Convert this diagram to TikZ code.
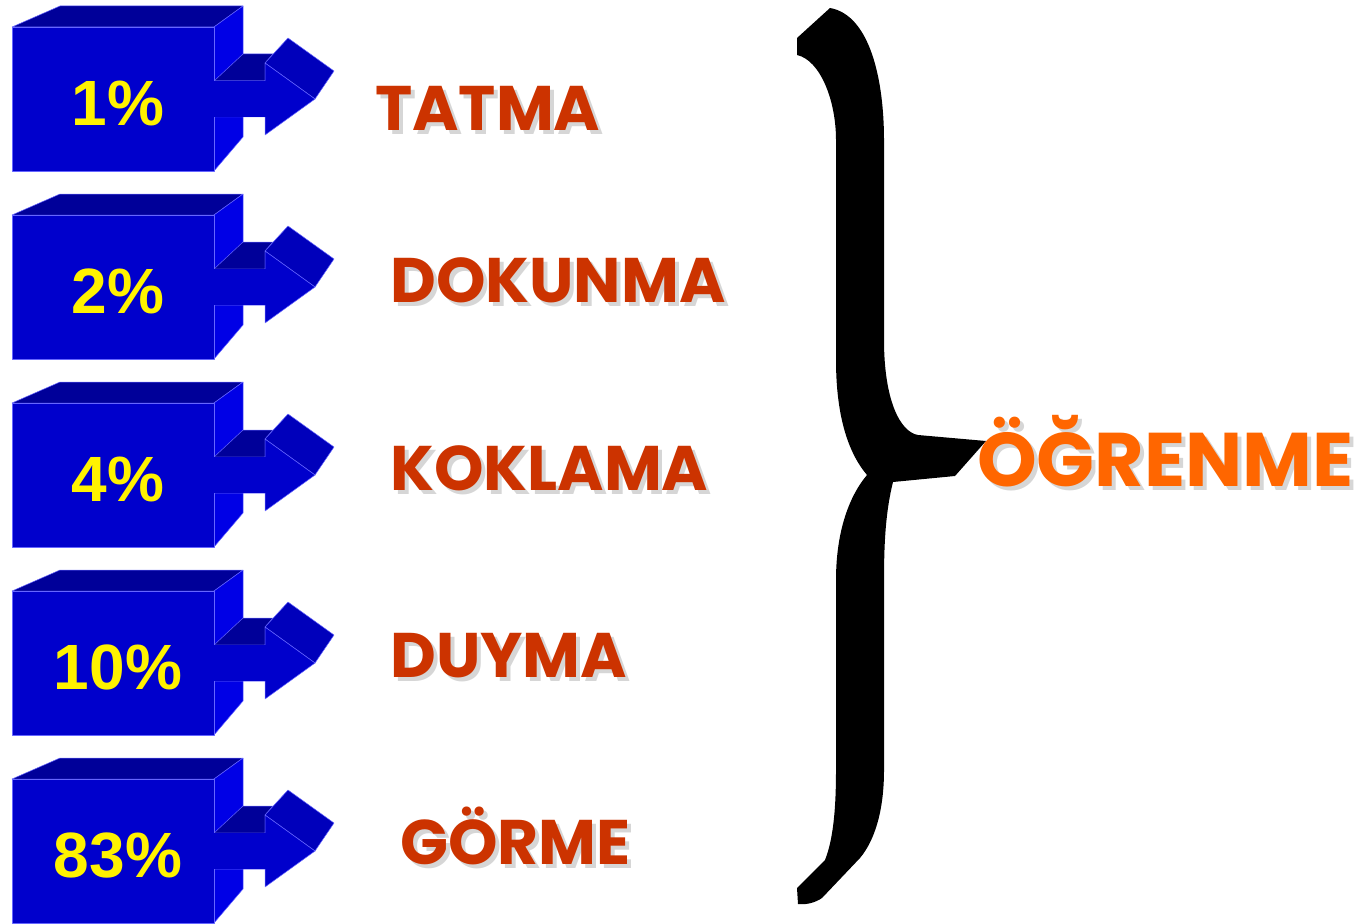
\documentclass[tikz,border=0pt]{standalone}
\usepackage{fontspec}
\newfontfamily\pctfont{Liberation Sans}
\newfontfamily\sensefont{Poppins}
\definecolor{boxfront}{HTML}{0000CC}
\definecolor{boxtop}{HTML}{000099}
\definecolor{boxside}{HTML}{0000E6}
\definecolor{headtop}{HTML}{0000BB}
\definecolor{edgeblue}{HTML}{6666FF}
\definecolor{sensered}{HTML}{CC3300}
\definecolor{learnorange}{HTML}{FF6600}
\definecolor{textshadow}{HTML}{D6D6D6}
\begin{document}
\begin{tikzpicture}[x=1pt,y=-1pt,
  face/.style={draw=edgeblue,line width=0.5pt,line join=round},
  pct/.style={font=\pctfont\bfseries\fontsize{64}{64}\selectfont,text=yellow,anchor=base,inner sep=0pt},
  sense/.style={font=\sensefont\bfseries\fontsize{63}{63}\selectfont,text=sensered,anchor=base west,inner sep=0pt},
  learn/.style={font=\sensefont\bfseries\fontsize{76}{76}\selectfont,text=learnorange,anchor=base west,inner sep=0pt},
  shade/.style={text=textshadow}]
\useasboundingbox (0,0) rectangle (1372,923);
% boxes with arrows
\foreach \pc [count=\i] in {1\%,2\%,4\%,10\%,83\%}{
  \begin{scope}[yshift={-188*(\i-1)}]
  \filldraw[face,fill=boxtop] (12,27) -- (60,6) -- (243,6) -- (214,27) -- cycle;
  \filldraw[face,fill=boxside] (214,27) -- (243,6) -- (243,137) -- (214,171) -- cycle;
  \filldraw[face,fill=boxtop] (214,81) -- (243,54) -- (273,54) -- (265,63) -- (265,81) -- cycle;
  \filldraw[face,fill=headtop] (265,63) -- (288,38) -- (334,71) -- (315,99) -- cycle;
  \filldraw[face,fill=boxfront] (214,81) -- (265,81) -- (265,63) -- (315,99) -- (265,135)
    -- (265,117) -- (214,117);
  \filldraw[face,fill=boxfront] (12,27) rectangle (214,171);
  \fill[boxfront] (210,81.3) rectangle (266,116.7);
  \node[pct] (p\i) at (118,125) {\pc};
  \end{scope}
}
% senses
\foreach \lbl/\x/\y [count=\i] in {TATMA/375/130,DOKUNMA/390/302,KOKLAMA/390/490,DUYMA/390/677,G\"ORME/400/864}{
  \node[sense,shade] (sh\i) at (\x+4,\y+4) {\lbl};
  \node[sense] (s\i) at (\x,\y) {\lbl};
}
% brace
\fill[black] (830,8) .. controls (870,15) and (884,80) .. (884,140) -- (884,340)
  .. controls (884,400) and (900,432) .. (918,435) -- (986,441) -- (955,476) -- (893,482)
  .. controls (886,510) and (884,540) .. (884,580) -- (884,770)
  .. controls (884,810) and (875,840) .. (860,858) -- (822,898)
  .. controls (815,903) and (805,905) .. (798,904) -- (797,888) -- (825,860)
  .. controls (833,840) and (836,810) .. (836,770) -- (836,580)
  .. controls (836,530) and (850,495) .. (867,475)
  .. controls (850,455) and (836,420) .. (836,360) -- (836,140)
  .. controls (836,100) and (820,60) .. (797,55) -- (797,38) -- cycle;
\node[learn,shade] (lsh) at (981,490) {ÖĞRENME};
\node[learn] (learn) at (977,486) {ÖĞRENME};
\end{tikzpicture}
\end{document}
